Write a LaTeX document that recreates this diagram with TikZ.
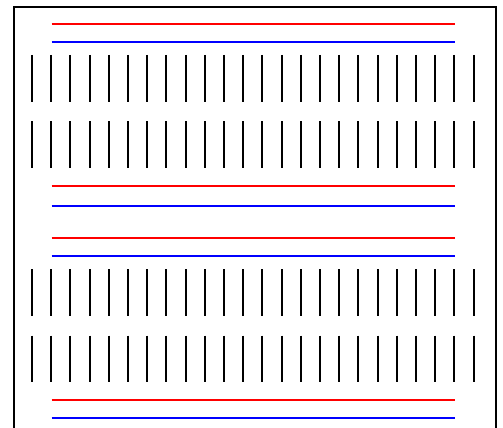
\documentclass[tikz,border=0pt]{standalone}
\begin{document}
\begin{tikzpicture}[x=1pt,y=-1pt,
  board/.style={draw=black,line width=2pt},
  pin/.style={draw=black,line width=2pt},
  plusrail/.style={draw=red,line width=1.7pt},
  minusrail/.style={draw=blue,line width=1.7pt}]
\useasboundingbox (0,0) rectangle (503,428);
\clip (0,0) rectangle (503,428);
\draw[board] (14,7.5) rectangle (495.7,445);
% rails
\foreach \yr/\yb in {23.7/42, 186/206, 237.7/255.7, 399.7/417.7}{
  \draw[plusrail] (51.5,\yr) -- (454.5,\yr);
  \draw[minusrail] (51.5,\yb) -- (454.5,\yb);
}
% pin columns
\foreach \i in {0,...,23}{
  \pgfmathsetmacro{\xx}{32+19.2*\i}
  \foreach \ya/\yb in {55/102, 121/168, 269/315.7, 335.7/382}{
    \draw[pin] (\xx,\ya) -- (\xx,\yb);
  }
}
\end{tikzpicture}
\end{document}
